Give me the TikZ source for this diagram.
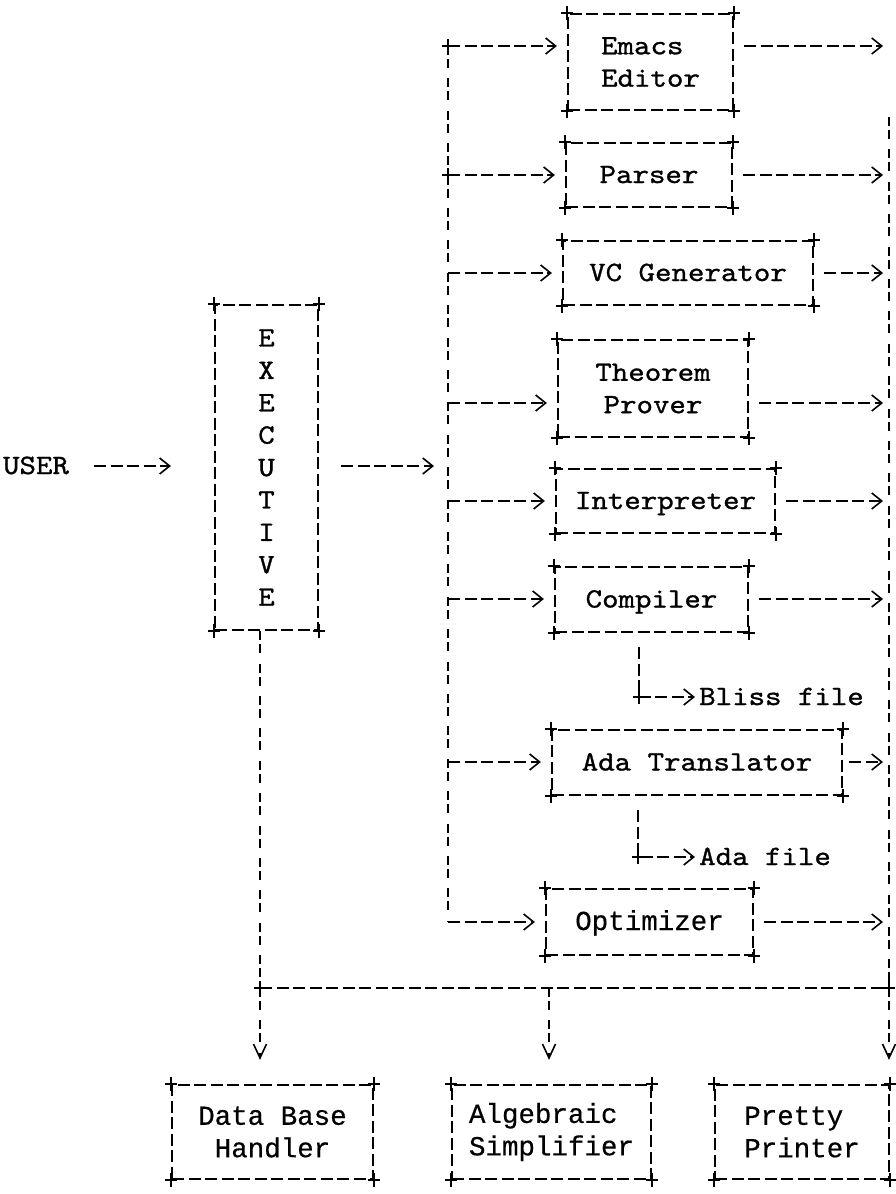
\documentclass[tikz,border=0pt]{standalone}
\usepackage{fontspec}
\usetikzlibrary{arrows.meta}
\newfontfamily\tw{lmmono10-regular.otf}[FakeBold=1.0, FakeStretch=1.12]
\newfontfamily\tws{Liberation Mono}[FakeBold=0.5]
\begin{document}
\begin{tikzpicture}[x=1pt,y=-1pt,
  >={Straight Barb[length=10pt,width=16pt,line width=1.6pt]},
  every node/.style={font=\tw\fontsize{28}{32.4}\selectfont, inner sep=0pt},
  sansbox/.style={font=\tws\fontsize{27.5}{32.4}\selectfont},
  box/.style={draw, line width=2.2pt, dash pattern=on 12pt off 4.5pt, align=center},
  one/.style={text height=16pt, text depth=0pt},
  hl/.style={line width=2.4pt, dash pattern=on 12pt off 4.5pt},
  vl/.style={line width=1.9pt, dash pattern=on 9pt off 4pt on 9pt off 10.4pt},
  inarr/.style={hl, ->, shorten >=10pt},
  outarr/.style={hl, ->, shorten <=10pt, shorten >=6pt},
  varr/.style={vl, -{Straight Barb[length=14pt,width=13pt,line width=1.6pt]}, shorten >=24pt},
  plusm/.style={line width=1.9pt, solid}]
\useasboundingbox (0,0) rectangle (896,1194);

% boxes
\node[box, align=left, minimum width=165pt, minimum height=96pt] (emacs) at (650.5,62) {Emacs\\Editor};
\node[box, one, minimum width=166pt, minimum height=64pt] (parser) at (649,175) {Parser};
\node[box, one, minimum width=250pt, minimum height=64pt] (vcgen) at (688,273) {VC Generator};
\node[box, minimum width=190pt, minimum height=97pt] (theorem) at (653,388.5) {Theorem\\Prover};
\node[box, one, minimum width=219pt, minimum height=64pt] (interp) at (665.5,501) {Interpreter};
\node[box, one, minimum width=193pt, minimum height=65pt] (compiler) at (651.5,599.5) {Compiler};
\node[box, one, minimum width=290pt, minimum height=65pt] (adatr) at (697,762.5) {Ada Translator};
\node[box, one, sansbox, minimum width=207pt, minimum height=66pt] (optim) at (649.5,922) {Optimizer};
\node[box, minimum width=103pt, minimum height=325pt] (exec) at (266.5,467.5) {E\\X\\E\\C\\U\\T\\I\\V\\E};
\node[box, sansbox, minimum width=201pt, minimum height=94pt] (dbh) at (272.5,1132) {Data Base\\Handler};
\node[box, sansbox, align=left, minimum width=199pt, minimum height=94pt] (alg) at (551.5,1132) {Algebraic\\Simplifier};
\node[box, sansbox, align=left, minimum width=174pt, minimum height=94pt] (pretty) at (802,1132) {Pretty\\Printer};

% text nodes
\node[one] (user) at (36,466) {USER};
\node[one, anchor=west] (bliss) at (699,697) {Bliss file};
\node[one, anchor=west] (adafile) at (699,857) {Ada file};

% bus coordinates
\coordinate (lb1) at (448,46);
\coordinate (lb5) at (448,175);
\coordinate (lb8) at (448,273);
\coordinate (lb12) at (448,403);
\coordinate (lbU) at (448,466);
\coordinate (lb15) at (448,501);
\coordinate (lb18) at (448,599);
\coordinate (lb23) at (448,762);
\coordinate (lb28) at (448,922);
\coordinate (rbT) at (889,117);
\coordinate (rb1) at (889,46);
\coordinate (rb5) at (889,175);
\coordinate (rb8) at (889,273);
\coordinate (rb12) at (889,403);
\coordinate (rb15) at (889,501);
\coordinate (rb18) at (889,599);
\coordinate (rb23) at (889,762);
\coordinate (rb28) at (889,922);
\coordinate (bl) at (260,988);
\coordinate (bm) at (549,988);
\coordinate (br) at (889,988);
\coordinate (bj) at (639,697);
\coordinate (aj) at (638,857);

% user and executive
\draw[hl, ->, shorten <=25pt, shorten >=43pt] (user.east) -- (user.east -| exec.west);
\draw[hl, ->, shorten <=22pt, shorten >=14pt] (exec.east |- lbU) -- (lbU);

% left bus
\draw[vl] (lb1) -- (lb28);
\draw[inarr] (lb1) -- (emacs.west |- lb1);
\draw[inarr] (lb5) -- (parser.west |- lb5);
\draw[inarr] (lb8) -- (vcgen.west |- lb8);
\draw[inarr] (lb12) -- (theorem.west |- lb12);
\draw[inarr] (lb15) -- (interp.west |- lb15);
\draw[inarr] (lb18) -- (compiler.west |- lb18);
\draw[inarr] (lb23) -- (adatr.west |- lb23);
\draw[inarr] (lb28) -- (optim.west |- lb28);

% right bus
\draw[vl] (rbT) -- (br);
\draw[outarr] (emacs.east |- rb1) -- (rb1);
\draw[outarr] (parser.east |- rb5) -- (rb5);
\draw[outarr] (vcgen.east |- rb8) -- (rb8);
\draw[outarr] (theorem.east |- rb12) -- (rb12);
\draw[outarr] (interp.east |- rb15) -- (rb15);
\draw[outarr] (compiler.east |- rb18) -- (rb18);
\draw[outarr, shorten <=6pt] (adatr.east |- rb23) -- (rb23);
\draw[outarr] (optim.east |- rb28) -- (rb28);

% files
\draw[hl, ->, shorten <=14pt, shorten >=4pt] (bj |- compiler.south) -- (bj) -- (bliss.west);
\draw[hl, ->, shorten <=14pt, shorten >=4pt] (aj |- adatr.south) -- (aj) -- (adafile.west);

% bottom bus
\draw[vl] (exec.south -| bl) -- (bl);
\draw[hl] (bl) -- (br);
\draw[varr] (bl) -- (bl |- dbh.north);
\draw[varr] (bm) -- (bm |- alg.north);
\draw[varr] (br) -- (br |- pretty.north);

% corner marks
\foreach \n in {emacs,parser,vcgen,theorem,interp,compiler,adatr,optim,exec,dbh,alg,pretty}
  \foreach \a in {north west,north east,south west,south east}
    \draw[plusm] (\n.\a) +(-6,0) -- +(6,0) +(0,-7) -- +(0,7);
\foreach \c in {lb1,lb5,bl,br,bj,aj}
  \draw[plusm] (\c) +(-6,0) -- +(6,0) +(0,-7) -- +(0,7);
\end{tikzpicture}
\end{document}
